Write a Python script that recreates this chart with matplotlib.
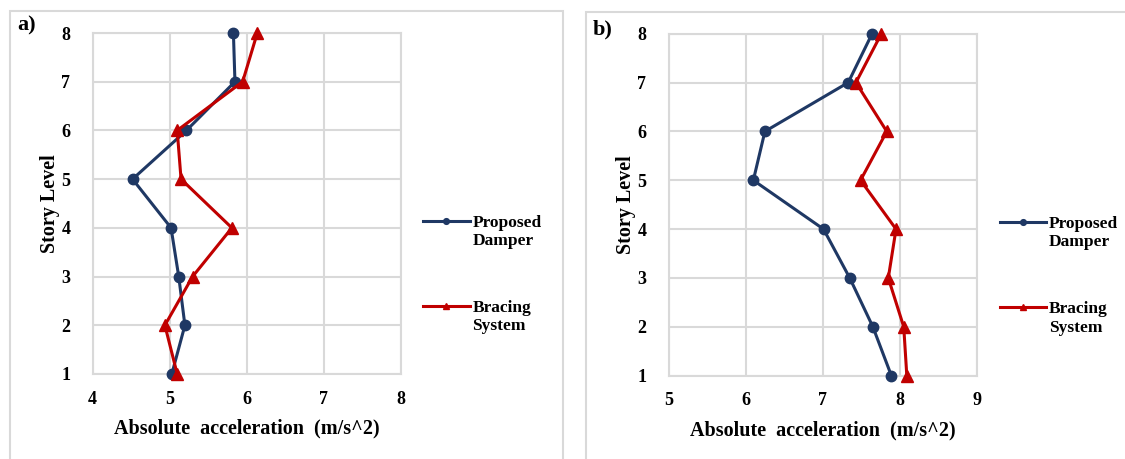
import numpy as np
import matplotlib.pyplot as plt
from matplotlib.legend import Legend
from matplotlib.patches import Rectangle

plt.rcParams['font.family'] = ['Liberation Serif', 'DejaVu Serif']

stories = [1, 2, 3, 4, 5, 6, 7, 8]

# case a)
damper_a = [5.03, 5.20, 5.12, 5.02, 4.52, 5.22, 5.85, 5.83]
bracing_a = [5.10, 4.94, 5.30, 5.81, 5.15, 5.10, 5.95, 6.14]

# case b)
damper_b = [7.89, 7.65, 7.35, 7.01, 6.10, 6.25, 7.33, 7.64]
bracing_b = [8.09, 8.05, 7.85, 7.95, 7.49, 7.83, 7.43, 7.76]

xticks_a = [4, 5, 6, 7, 8]
xticks_b = [5, 6, 7, 8, 9]

blue = '#1f3864'
red = '#c00000'
grid = '#d9d9d9'

fig = plt.figure(figsize=(11.25, 4.59), dpi=100)

# panel frames
fig.patches.append(Rectangle((10 / 1125, -0.05), 553 / 1125, 1.05 - 11 / 459,
                             transform=fig.transFigure, fill=False,
                             edgecolor=grid, lw=1.5))
fig.patches.append(Rectangle((586 / 1125, -0.05), 0.6, 1.05 - 12 / 459,
                             transform=fig.transFigure, fill=False,
                             edgecolor=grid, lw=1.5))

ax1 = fig.add_axes([92.5 / 1125, 1 - 374 / 459, 308 / 1125, 341 / 459])
ax2 = fig.add_axes([668.5 / 1125, 1 - 375.7 / 459, 308.5 / 1125, 342 / 459])


def legend_entry(ax, handle, first, second, y):
    # one legend per series, second word hung under the first
    leg = Legend(ax, [handle], [first], loc='center left',
                 bbox_to_anchor=(1.073, y), frameon=False, fontsize=12.5,
                 handlelength=2.7, handletextpad=0.15, markerscale=0.55,
                 borderpad=0, borderaxespad=0)
    txt = leg.get_texts()[0]
    txt.set_fontweight('bold')
    ax.add_artist(leg)
    ax.annotate(second, xy=(0, 0), xycoords=txt, xytext=(0, -1.5),
                textcoords='offset points', ha='left', va='top',
                fontsize=12.5, fontweight='bold', zorder=10)


def draw(ax, damper, bracing, xticks, letter, ly):
    h1, = ax.plot(damper, stories, color=blue, lw=2.2, marker='o', ms=7.5,
                  clip_on=False, zorder=3)
    h2, = ax.plot(bracing, stories, color=red, lw=2.2, marker='^', ms=9,
                  clip_on=False, zorder=3)
    ax.set_xlim(xticks[0], xticks[-1])
    ax.set_ylim(1, 8)
    ax.set_xticks(xticks)
    ax.set_yticks(stories)
    ax.grid(True, color=grid, lw=1.5)
    ax.set_axisbelow(True)
    for s in ax.spines.values():
        s.set_color(grid)
        s.set_linewidth(1.5)
    ax.tick_params(length=0, labelsize=13)
    ax.tick_params(axis='y', pad=16)
    ax.tick_params(axis='x', pad=12)
    for t in ax.get_xticklabels() + ax.get_yticklabels():
        t.set_fontweight('bold')
    ax.set_xlabel('Absolute  acceleration  (m/s^2)', fontsize=14.5,
                  fontweight='bold', labelpad=8)
    ax.set_ylabel('Story Level', fontsize=14.5, fontweight='bold', labelpad=1)
    ax.text(-0.245, ly, letter, transform=ax.transAxes, fontsize=16,
            fontweight='bold', ha='left', va='center')
    legend_entry(ax, h1, 'Proposed', 'Damper', 0.443)
    legend_entry(ax, h2, 'Bracing', 'System', 0.194)


draw(ax1, damper_a, bracing_a, xticks_a, 'a)', 1.023)
draw(ax2, damper_b, bracing_b, xticks_b, 'b)', 1.011)

fig.savefig('out.png', dpi=100)
